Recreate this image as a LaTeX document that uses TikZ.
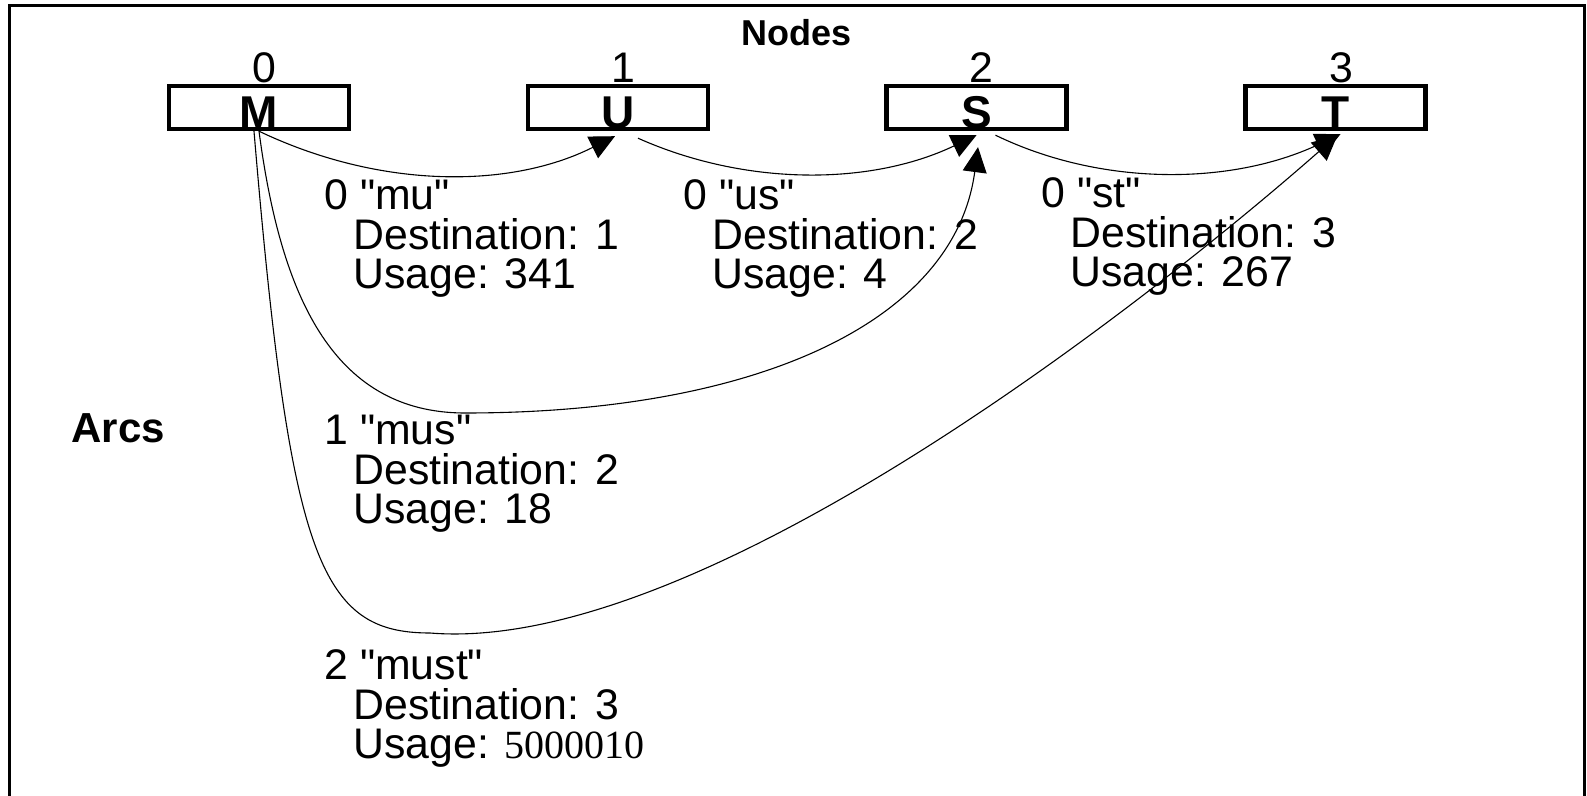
\documentclass[tikz,border=0pt]{standalone}
\usepackage{fontspec}
\newfontfamily\arialf{Liberation Sans}
\newfontfamily\serifnum{Liberation Serif}
\usetikzlibrary{arrows.meta}
\newcommand{\infoblock}[3]{\vtop{\baselineskip=19.75pt\relax\hbox{#1}\hbox{\hspace*{14.5pt}#2}\hbox{\hspace*{14.5pt}#3}}}
\begin{document}
\begin{tikzpicture}[x=0.5pt,y=-0.5pt,
  box/.style={draw, line width=2.2pt, minimum width=90pt, minimum height=21.5pt, inner sep=0pt,
    text height=21pt, text depth=0pt, font=\arialf\fontsize{23}{23}\selectfont\bfseries},
  idx/.style={anchor=base, inner sep=0pt, font=\arialf\fontsize{21.4}{21.4}\selectfont},
  info/.style={anchor=base west, inner sep=0pt, font=\arialf\fontsize{21.4}{19.75}\selectfont},
  ttl/.style={inner sep=0pt, font=\arialf\bfseries},
  arc/.style={line width=0.55pt, -{Triangle[length=12.5pt,width=12pt]}},
]
\useasboundingbox (0,0) rectangle (1587,796);
\draw[line width=1.5pt] (9.5,796) -- (9.5,5.5) -- (1584.5,5.5) -- (1584.5,796);

\node[ttl, anchor=base, font=\arialf\bfseries\fontsize{18}{18}\selectfont] (nodes) at (797,46) {Nodes};
\node[ttl, anchor=base west, font=\arialf\bfseries\fontsize{21}{21}\selectfont] (arcs) at (71,443) {Arcs};

\node[box] (M) at (259,107.5) {M};
\node[box] (U) at (618,107.5) {U};
\node[box] (S) at (976.5,107.5) {S};
\node[box] (T) at (1335.5,107.5) {T};

\node[idx] (iM) at ([shift={(5,-1)}]M.north) {0};
\node[idx] (iU) at ([shift={(5,-1)}]U.north) {1};
\node[idx] (iS) at ([shift={(5,-1)}]S.north) {2};
\node[idx] (iT) at ([shift={(6,-1)}]T.north) {3};

\node[info] (amu) at (324,210) {\infoblock{0 "mu"}{Destination: 1}{Usage: 341}};
\node[info] (aus) at (683,210) {\infoblock{0 "us"}{Destination: 2}{Usage: 4}};
\node[info] (ast) at (1041,208) {\infoblock{0 "st"}{Destination: 3}{Usage: 267}};
\node[info] (amus) at (324,445) {\infoblock{1 "mus"}{Destination: 2}{Usage: 18}};
\node[info] (amust) at (324,680) {\infoblock{2 "must"}{Destination: 3}{Usage: {\serifnum\fontsize{20}{20}\selectfont 5000010}}};

\draw[arc] (M.south) .. controls (380,189) and (510,189) .. ([shift={(-3,5)}]U.south);
\draw[arc] ([shift={(20,7)}]U.south) .. controls (745,186) and (870,186) .. ([shift={(0,4)}]S.south);
\draw[arc] ([shift={(19,4)}]S.south) .. controls (1100,186) and (1230,186) .. ([shift={(5,3)}]T.south);
\draw[arc] (M.south) .. controls (280,290) and (330,413) .. (465,413) .. controls (760,413) and (955,320) .. ([shift={(1.5,16)}]S.south);
\draw[arc] ([shift={(-5,0)}]M.south) .. controls (290,560) and (320,633) .. (430,633) .. controls (700,655) and (1150,300) .. ([shift={(2,4)}]T.south);
\end{tikzpicture}
\end{document}
